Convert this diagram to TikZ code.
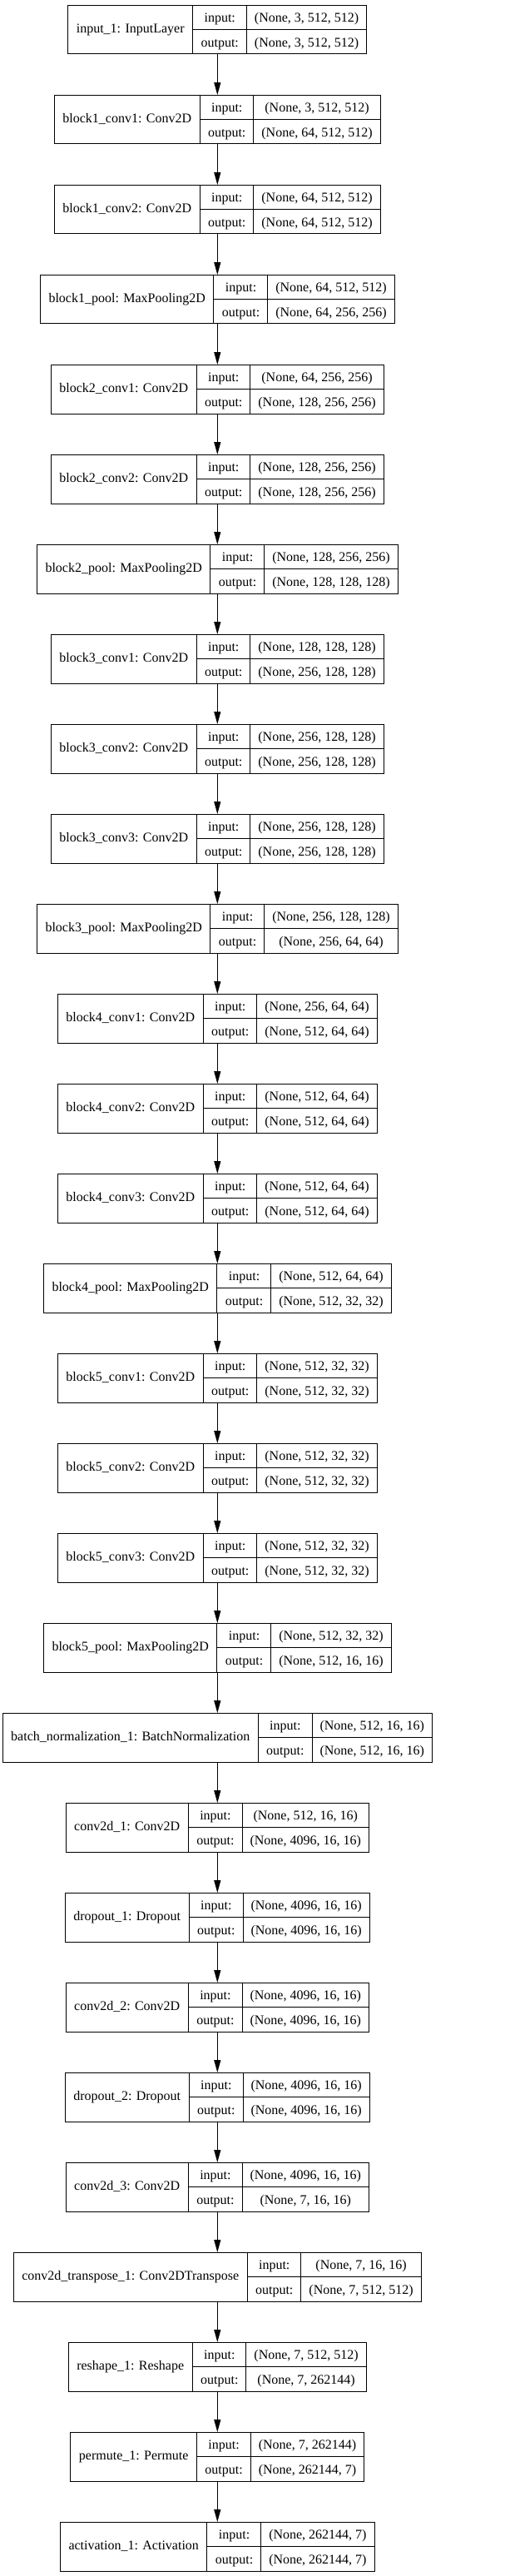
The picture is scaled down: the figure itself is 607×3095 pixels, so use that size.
\documentclass[tikz,border=0pt]{standalone}
\usepackage{fontspec}
\setmainfont{Liberation Serif}
\usepackage{tikz}
\usetikzlibrary{arrows.meta}

% table cells of one layer box
\setlength{\tabcolsep}{9.5pt}
\setlength{\arrayrulewidth}{1pt}
\renewcommand{\arraystretch}{1.51}
\newcommand{\layercells}[3]{%
  \begin{tabular}{@{\hspace{10pt}}c@{\hspace{10pt}}|@{}c@{}}
    #1 & \begin{tabular}{c|c}
      input: & #2\\ \hline
      output: & #3
    \end{tabular}
  \end{tabular}}

\tikzset{
  layer/.style={draw, line width=1pt, inner sep=0pt, outer sep=0pt,
    font=\fontsize{16}{19.2}\selectfont},
  flow/.style={line width=1pt, -{Triangle[length=15pt,width=8pt]}}
}

\begin{document}
\begin{tikzpicture}[x=1pt, y=1pt]
                \useasboundingbox (0,0) rectangle (607,-3095);

                % Input
                \node[layer] (in1) at (261.3,-35.5) {\layercells{input\_1: InputLayer}{(None, 3, 512, 512)}{(None, 3, 512, 512)}};

                % Block 1
                \node[layer] (b1c1) at (261.3,-143.5) {\layercells{block1\_conv1: Conv2D}{(None, 3, 512, 512)}{(None, 64, 512, 512)}};
                \node[layer] (b1c2) at (261.3,-251.5) {\layercells{block1\_conv2: Conv2D}{(None, 64, 512, 512)}{(None, 64, 512, 512)}};
                \node[layer] (b1p) at (261.3,-359.5) {\layercells{block1\_pool: MaxPooling2D}{(None, 64, 512, 512)}{(None, 64, 256, 256)}};

                % Block 2
                \node[layer] (b2c1) at (261.3,-467.5) {\layercells{block2\_conv1: Conv2D}{(None, 64, 256, 256)}{(None, 128, 256, 256)}};
                \node[layer] (b2c2) at (261.3,-575.5) {\layercells{block2\_conv2: Conv2D}{(None, 128, 256, 256)}{(None, 128, 256, 256)}};
                \node[layer] (b2p) at (261.3,-683.5) {\layercells{block2\_pool: MaxPooling2D}{(None, 128, 256, 256)}{(None, 128, 128, 128)}};

                % Block 3
                \node[layer] (b3c1) at (261.3,-791.5) {\layercells{block3\_conv1: Conv2D}{(None, 128, 128, 128)}{(None, 256, 128, 128)}};
                \node[layer] (b3c2) at (261.3,-899.5) {\layercells{block3\_conv2: Conv2D}{(None, 256, 128, 128)}{(None, 256, 128, 128)}};
                \node[layer] (b3c3) at (261.3,-1007.5) {\layercells{block3\_conv3: Conv2D}{(None, 256, 128, 128)}{(None, 256, 128, 128)}};
                \node[layer] (b3p) at (261.3,-1115.5) {\layercells{block3\_pool: MaxPooling2D}{(None, 256, 128, 128)}{(None, 256, 64, 64)}};

                % Block 4
                \node[layer] (b4c1) at (261.3,-1223.5) {\layercells{block4\_conv1: Conv2D}{(None, 256, 64, 64)}{(None, 512, 64, 64)}};
                \node[layer] (b4c2) at (261.3,-1331.5) {\layercells{block4\_conv2: Conv2D}{(None, 512, 64, 64)}{(None, 512, 64, 64)}};
                \node[layer] (b4c3) at (261.3,-1439.5) {\layercells{block4\_conv3: Conv2D}{(None, 512, 64, 64)}{(None, 512, 64, 64)}};
                \node[layer] (b4p) at (261.3,-1547.5) {\layercells{block4\_pool: MaxPooling2D}{(None, 512, 64, 64)}{(None, 512, 32, 32)}};

                % Block 5
                \node[layer] (b5c1) at (261.3,-1655.5) {\layercells{block5\_conv1: Conv2D}{(None, 512, 32, 32)}{(None, 512, 32, 32)}};
                \node[layer] (b5c2) at (261.3,-1763.5) {\layercells{block5\_conv2: Conv2D}{(None, 512, 32, 32)}{(None, 512, 32, 32)}};
                \node[layer] (b5c3) at (261.3,-1871.5) {\layercells{block5\_conv3: Conv2D}{(None, 512, 32, 32)}{(None, 512, 32, 32)}};
                \node[layer] (b5p) at (261.3,-1979.5) {\layercells{block5\_pool: MaxPooling2D}{(None, 512, 32, 32)}{(None, 512, 16, 16)}};

                % Head
                \node[layer] (bn1) at (261.3,-2087.5) {\layercells{batch\_normalization\_1: BatchNormalization}{(None, 512, 16, 16)}{(None, 512, 16, 16)}};
                \node[layer] (cv1) at (261.3,-2195.5) {\layercells{conv2d\_1: Conv2D}{(None, 512, 16, 16)}{(None, 4096, 16, 16)}};
                \node[layer] (do1) at (261.3,-2303.5) {\layercells{dropout\_1: Dropout}{(None, 4096, 16, 16)}{(None, 4096, 16, 16)}};
                \node[layer] (cv2) at (261.3,-2411.5) {\layercells{conv2d\_2: Conv2D}{(None, 4096, 16, 16)}{(None, 4096, 16, 16)}};
                \node[layer] (do2) at (261.3,-2519.5) {\layercells{dropout\_2: Dropout}{(None, 4096, 16, 16)}{(None, 4096, 16, 16)}};
                \node[layer] (cv3) at (261.3,-2627.5) {\layercells{conv2d\_3: Conv2D}{(None, 4096, 16, 16)}{(None, 7, 16, 16)}};
                \node[layer] (ct1) at (261.3,-2735.5) {\layercells{conv2d\_transpose\_1: Conv2DTranspose}{(None, 7, 16, 16)}{(None, 7, 512, 512)}};
                \node[layer] (rs1) at (261.3,-2843.5) {\layercells{reshape\_1: Reshape}{(None, 7, 512, 512)}{(None, 7, 262144)}};
                \node[layer] (pm1) at (261.3,-2951.5) {\layercells{permute\_1: Permute}{(None, 7, 262144)}{(None, 262144, 7)}};
                \node[layer] (ac1) at (261.3,-3059.5) {\layercells{activation\_1: Activation}{(None, 262144, 7)}{(None, 262144, 7)}};

                % Connections
                \draw[flow] (in1) -- (b1c1);
                \draw[flow] (b1c1) -- (b1c2);
                \draw[flow] (b1c2) -- (b1p);
                \draw[flow] (b1p) -- (b2c1);
                \draw[flow] (b2c1) -- (b2c2);
                \draw[flow] (b2c2) -- (b2p);
                \draw[flow] (b2p) -- (b3c1);
                \draw[flow] (b3c1) -- (b3c2);
                \draw[flow] (b3c2) -- (b3c3);
                \draw[flow] (b3c3) -- (b3p);
                \draw[flow] (b3p) -- (b4c1);
                \draw[flow] (b4c1) -- (b4c2);
                \draw[flow] (b4c2) -- (b4c3);
                \draw[flow] (b4c3) -- (b4p);
                \draw[flow] (b4p) -- (b5c1);
                \draw[flow] (b5c1) -- (b5c2);
                \draw[flow] (b5c2) -- (b5c3);
                \draw[flow] (b5c3) -- (b5p);
                \draw[flow] (b5p) -- (bn1);
                \draw[flow] (bn1) -- (cv1);
                \draw[flow] (cv1) -- (do1);
                \draw[flow] (do1) -- (cv2);
                \draw[flow] (cv2) -- (do2);
                \draw[flow] (do2) -- (cv3);
                \draw[flow] (cv3) -- (ct1);
                \draw[flow] (ct1) -- (rs1);
                \draw[flow] (rs1) -- (pm1);
                \draw[flow] (pm1) -- (ac1);
            \end{tikzpicture}
\end{document}
